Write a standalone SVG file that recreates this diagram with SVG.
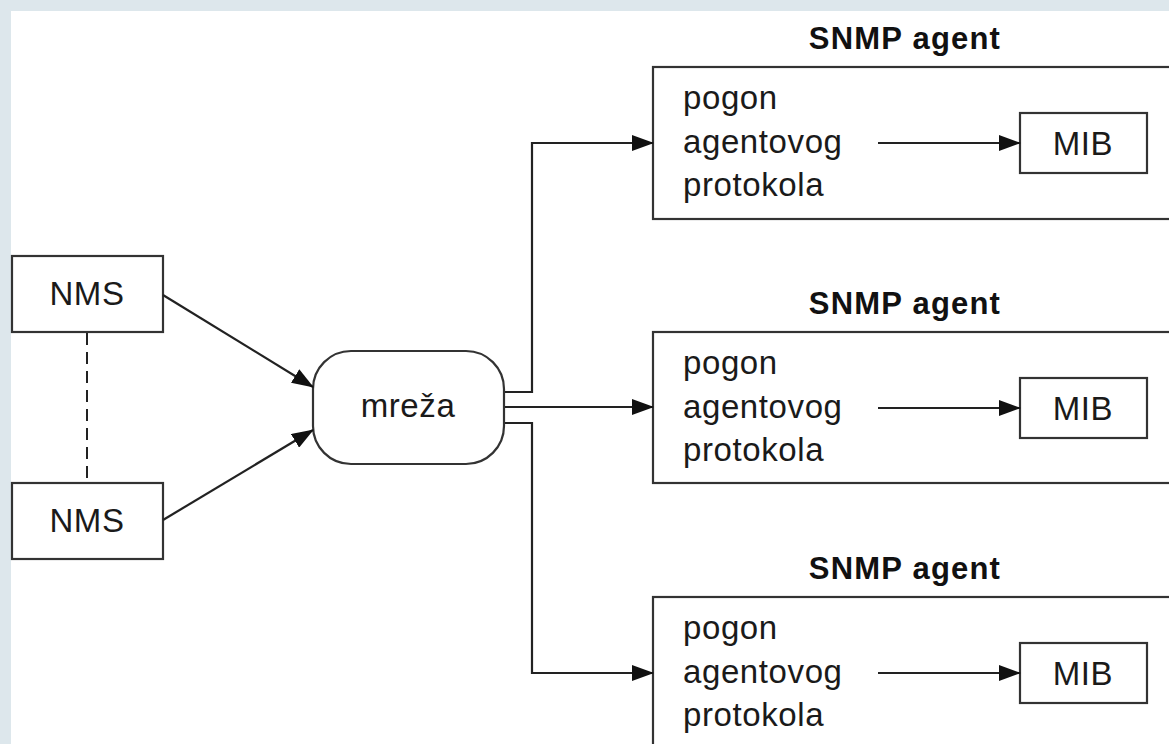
<svg xmlns="http://www.w3.org/2000/svg" width="1169" height="744" viewBox="0 0 1169 744">
  <defs>
    <marker id="arrow" markerWidth="22" markerHeight="16" refX="21" refY="8" orient="auto" markerUnits="userSpaceOnUse">
      <path d="M0,0 L22,8 L0,16 Z" fill="#111"/>
    </marker>
    <style>
      .box { fill: #fff; stroke: #333; stroke-width: 2.2; }
      .line { fill: none; stroke: #222; stroke-width: 2; }
      .arr { fill: none; stroke: #222; stroke-width: 2.2; marker-end: url(#arrow); }
      .dash { fill: none; stroke: #222; stroke-width: 2; stroke-dasharray: 12 7; }
      .lbl { font-family: "Liberation Sans", Arial, sans-serif; font-size: 33px; fill: #1a1a1a; letter-spacing: 0.6px; }
      .ctr { text-anchor: middle; }
      .title { font-family: "Liberation Sans", Arial, sans-serif; font-size: 31px; font-weight: bold; fill: #111; text-anchor: middle; letter-spacing: 1.2px; }
    </style>
  </defs>

  <!-- page frame -->
  <rect x="0" y="0" width="1169" height="744" fill="#dde7ec"/>
  <rect x="11" y="11" width="1170" height="740" fill="#fff"/>

  <!-- managers -->
  <g id="nms-1">
    <rect class="box" x="12" y="256" width="151" height="76"/>
    <text class="lbl ctr" x="87" y="305">NMS</text>
  </g>
  <g id="nms-2">
    <rect class="box" x="12" y="483" width="151" height="76"/>
    <text class="lbl ctr" x="87" y="532">NMS</text>
  </g>

  <!-- network -->
  <g id="mreza">
    <rect class="box" x="313" y="351" width="191" height="113" rx="38" ry="38"/>
    <text class="lbl ctr" x="408" y="417">mreža</text>
  </g>

  <!-- agents -->
  <g id="agent-1">
    <text class="title" x="905" y="49">SNMP agent</text>
    <rect class="box" x="653" y="67" width="540" height="152"/>
    <text class="lbl" x="683" y="109">pogon</text>
    <text class="lbl" x="683" y="153">agentovog</text>
    <text class="lbl" x="683" y="196">protokola</text>
  </g>
  <g id="mib-1">
    <rect class="box" x="1020" y="113" width="127" height="60"/>
    <text class="lbl ctr" x="1083" y="155">MIB</text>
  </g>

  <g id="agent-2">
    <text class="title" x="905" y="314">SNMP agent</text>
    <rect class="box" x="653" y="332" width="540" height="151"/>
    <text class="lbl" x="683" y="374">pogon</text>
    <text class="lbl" x="683" y="418">agentovog</text>
    <text class="lbl" x="683" y="461">protokola</text>
  </g>
  <g id="mib-2">
    <rect class="box" x="1020" y="378" width="127" height="60"/>
    <text class="lbl ctr" x="1083" y="420">MIB</text>
  </g>

  <g id="agent-3">
    <text class="title" x="905" y="579">SNMP agent</text>
    <rect class="box" x="653" y="597" width="540" height="170"/>
    <text class="lbl" x="683" y="639">pogon</text>
    <text class="lbl" x="683" y="683">agentovog</text>
    <text class="lbl" x="683" y="726">protokola</text>
  </g>
  <g id="mib-3">
    <rect class="box" x="1020" y="643" width="127" height="60"/>
    <text class="lbl ctr" x="1083" y="685">MIB</text>
  </g>

  <!-- connectors, drawn over the boxes -->
  <g id="connectors">
    <line class="dash" x1="87" y1="333" x2="87" y2="482"/>
    <line class="arr" x1="163" y1="295" x2="313" y2="387"/>
    <line class="arr" x1="163" y1="520" x2="313" y2="430"/>
    <polyline class="arr" points="505,392 532,392 532,143 653,143"/>
    <line class="arr" x1="505" y1="407" x2="653" y2="407"/>
    <polyline class="arr" points="505,423 532,423 532,673 653,673"/>
    <line class="arr" x1="878" y1="143" x2="1020" y2="143"/>
    <line class="arr" x1="878" y1="408" x2="1020" y2="408"/>
    <line class="arr" x1="878" y1="673" x2="1020" y2="673"/>
  </g>
</svg>
